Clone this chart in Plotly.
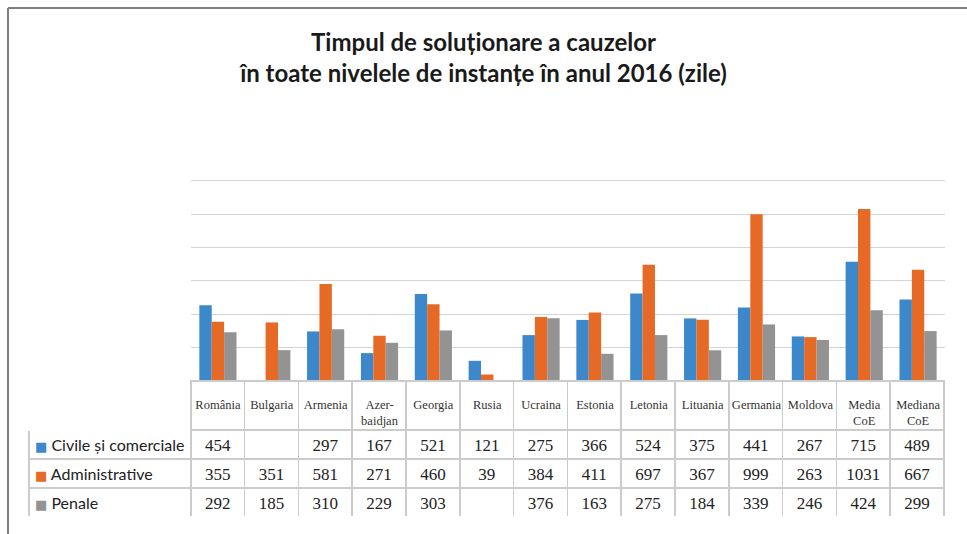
import plotly.graph_objects as go

categories = ["România", "Bulgaria", "Armenia", "Azer-baidjan", "Georgia", "Rusia", "Ucraina",
              "Estonia", "Letonia", "Lituania", "Germania", "Moldova", "Media CoE", "Mediana CoE"]
header_labels = ["România", "Bulgaria", "Armenia", "Azer-<br>baidjan", "Georgia", "Rusia", "Ucraina",
                 "Estonia", "Letonia", "Lituania", "Germania", "Moldova", "Media<br>CoE", "Mediana<br>CoE"]
series_names = ["Civile și comerciale", "Administrative", "Penale"]
civile = [454, None, 297, 167, 521, 121, 275, 366, 524, 375, 441, 267, 715, 489]
administrative = [355, 351, 581, 271, 460, 39, 384, 411, 697, 367, 999, 263, 1031, 667]
penale = [292, 185, 310, 229, 303, None, 376, 163, 275, 184, 339, 246, 424, 299]
series_values = [civile, administrative, penale]
grid_values = [200, 400, 600, 800, 1000, 1200]
colors = ["#3D88CB", "#E66A26", "#939393"]

W, H = 967, 534
x0, x1 = 191, 945
y_top, y_base, y_tab_bottom = 180.7, 381, 516.5
legend_left = 29
header_h, row_h = 49, 29
y_max = 1260
px_per_unit = (y_base - y_top) / 1200
y_dom_top = y_base - y_max * px_per_unit

fig = go.Figure()
for name, vals, col in zip(series_names, series_values, colors):
    fig.add_trace(go.Bar(x=categories, y=vals, name=name, marker=dict(color=col, line=dict(width=0)),
                         showlegend=False, hoverinfo="x+y+name"))

# data table under the chart (numbers); legend column text added as annotations
columns = [["", "", ""]]
for i in range(len(categories)):
    columns.append(["" if s[i] is None else str(s[i]) for s in series_values])

ncol = len(categories)
clear = "rgba(0,0,0,0)"
fig.add_trace(go.Table(
    domain=dict(x=[legend_left / W, x1 / W], y=[(H - y_tab_bottom) / H, (H - y_base) / H]),
    columnwidth=[x0 - legend_left] + [(x1 - x0) / ncol] * ncol,
    header=dict(values=[""] * (ncol + 1),
                fill=dict(color=clear),
                line=dict(color=["white"] + ["#cccccc"] * ncol, width=1.5),
                align="center", height=header_h,
                font=dict(family="Liberation Serif", size=12.5, color="#333333")),
    cells=dict(values=columns,
               fill=dict(color=clear),
               line=dict(color="#cccccc", width=1.5),
               align="center", height=row_h,
               font=dict(family="Liberation Serif", size=17, color="#222222")),
))

annotations = []
for k, (name, col) in enumerate(zip(series_names, colors)):
    yc = y_base + header_h + row_h * (k + 0.5)
    annotations.append(dict(
        xref="paper", yref="paper", x=33 / W, y=1 - yc / H, xanchor="left", yanchor="middle",
        text=f"<span style='color:{col};font-size:13px;font-family:DejaVu Sans'>■</span> {name}",
        showarrow=False, font=dict(family="Lato", size=16, color="#222222")))

fig.update_layout(
    width=W, height=H,
    margin=dict(l=0, r=0, t=0, b=0),
    paper_bgcolor="white", plot_bgcolor="white",
    barmode="group", bargap=0.31, bargroupgap=0,
    title=dict(text="Timpul de soluționare a cauzelor<br>în toate nivelele de instanțe în anul 2016 (zile)",
               x=0.5, xanchor="center", y=1 - 51 / H, yanchor="middle",
               font=dict(family="Lato", size=24, color="#1a1a1a", weight="bold")),
    xaxis=dict(domain=[x0 / W, x1 / W], tickmode="array", tickvals=categories, ticktext=header_labels,
               tickfont=dict(family="Liberation Serif", size=12.5, color="#333333"),
               ticklabelstandoff=14, showgrid=False, showline=False, ticks="", zeroline=False),
    yaxis=dict(domain=[(H - y_base) / H, (H - y_dom_top) / H], range=[0, y_max], tickmode="array",
               tickvals=grid_values,
               showticklabels=False, showgrid=True, gridcolor="#d4d4d4", gridwidth=1.3,
               zeroline=False, showline=False),
    annotations=annotations,
    shapes=[
        dict(type="line", xref="paper", yref="paper", x0=8 / W, x1=1, y0=1 - 8 / H, y1=1 - 8 / H,
             line=dict(color="#808080", width=2)),
        dict(type="line", xref="paper", yref="paper", x0=8 / W, x1=8 / W, y0=0, y1=1 - 8 / H,
             line=dict(color="#808080", width=2)),
    ],
)

fig.write_html("out.html", config={"displayModeBar": False},
               post_script="document.body.style.margin='0';")
